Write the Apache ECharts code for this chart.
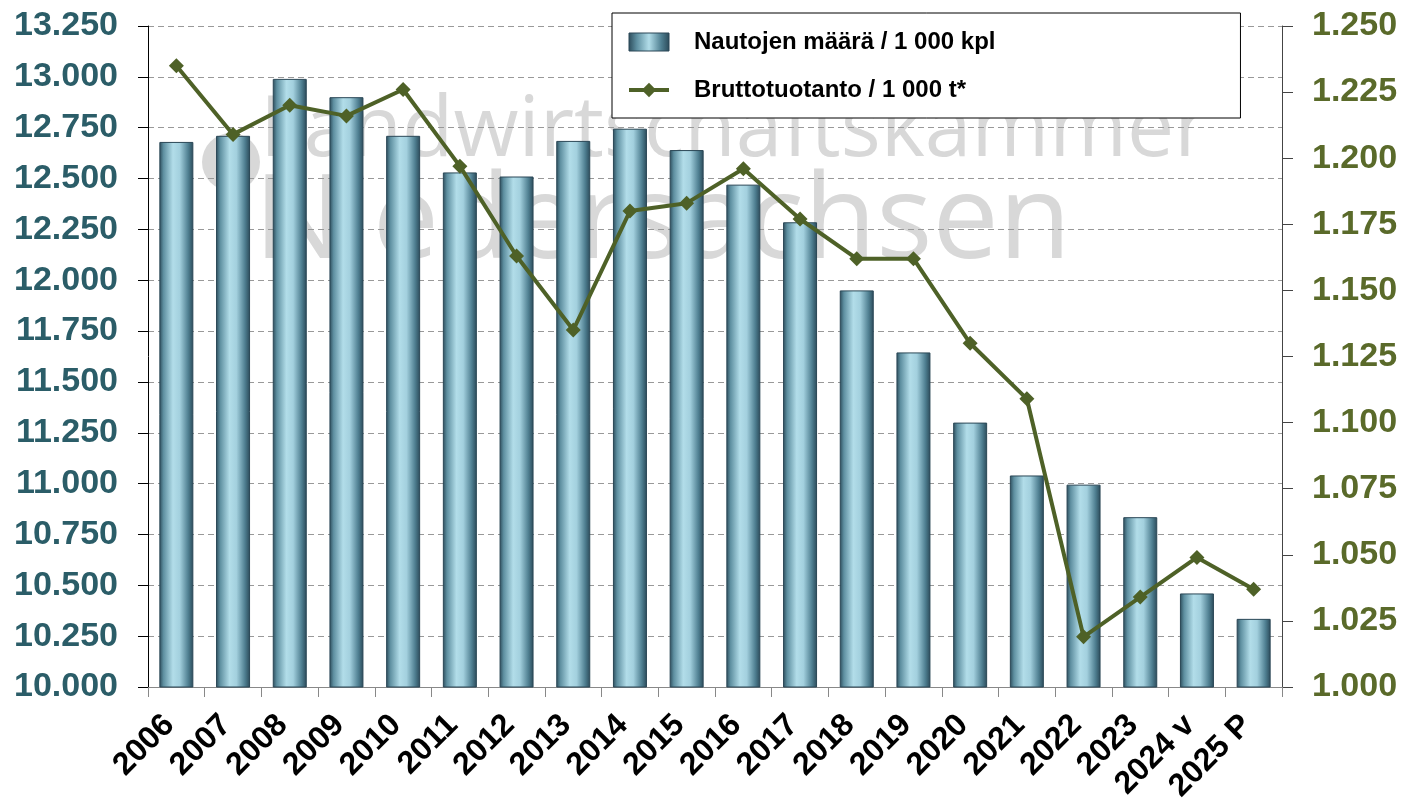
<!DOCTYPE html>
<html>
<head>
<meta charset="utf-8">
<script src="https://cdn.jsdelivr.net/npm/echarts@6/dist/echarts.min.js"></script>
<style>
  html, body { margin: 0; padding: 0; background: #fff; }
  #chart { width: 1403px; height: 802px; }
</style>
</head>
<body>
<div id="chart"></div>
<script>
const years = ["2006", "2007", "2008", "2009", "2010", "2011", "2012", "2013", "2014", "2015",
  "2016", "2017", "2018", "2019", "2020", "2021", "2022", "2023", "2024 v", "2025 P"];
// Nautojen määrä / 1 000 kpl
const cattle = [12680, 12710, 12990, 12900, 12710, 12530, 12510, 12685, 12745, 12640,
  12470, 12285, 11950, 11645, 11300, 11040, 10995, 10835, 10460, 10335];
// Bruttotuotanto / 1 000 t*
const production = [1235, 1209, 1220, 1216, 1226, 1197, 1163, 1135, 1180, 1183,
  1196, 1177, 1162, 1162, 1130, 1109, 1019, 1034, 1049, 1037];
const seriesNames = ["Nautojen määrä / 1 000 kpl", "Bruttotuotanto / 1 000 t*"];

const font = "'Liberation Sans', Arial, sans-serif";
function dots(v) {
  return String(Math.round(v)).replace(/\B(?=(\d{3})+(?!\d))/g, ".");
}

const barFill = new echarts.graphic.LinearGradient(0, 0, 1, 0, [
  { offset: 0, color: "#2b4b5a" },
  { offset: 0.12, color: "#5e8fa0" },
  { offset: 0.4, color: "#b2dde9" },
  { offset: 0.6, color: "#a3d0de" },
  { offset: 0.85, color: "#4f7f91" },
  { offset: 1, color: "#2a4958" }
]);
const legendFill = new echarts.graphic.LinearGradient(0, 0, 1, 0, [
  { offset: 0, color: "#2b4b5a" },
  { offset: 0.2, color: "#5e8fa0" },
  { offset: 0.5, color: "#b2dde9" },
  { offset: 0.8, color: "#4f7f91" },
  { offset: 1, color: "#2a4958" }
]);

const chart = echarts.init(document.getElementById("chart"));
chart.setOption({
  animation: false,
  backgroundColor: "#fff",
  textStyle: { fontFamily: font },
  grid: { left: 148, right: 121, top: 26, bottom: 115, outerBoundsMode: "none", containLabel: false },
  graphic: [
    { type: "circle", z: -10, shape: { cx: 231, cy: 162, r: 29 }, style: { fill: "#d8d8d8" } },
    { type: "text", z: -10, left: 260, top: 90,
      style: { text: "Landwirtschaftskammer", font: "normal 84px 'Open Sans', sans-serif", fill: "#d8d8d8" } },
    { type: "text", z: -10, left: 254, top: 165,
      style: { text: "Niedersachsen", font: "normal 118px 'Open Sans', sans-serif", fill: "#d8d8d8" } }
  ],
  legend: {
    orient: "vertical",
    left: 612,
    top: 13,
    padding: [17, 245, 16, 15],
    itemGap: 24,
    itemWidth: 40,
    itemHeight: 18,
    backgroundColor: "#fff",
    borderColor: "#000",
    borderWidth: 1,
    borderRadius: 0,
    textStyle: {
      fontFamily: font, fontSize: 24, fontWeight: "bold", color: "#000",
      lineHeight: 20, padding: [0, 0, 0, 20]
    },
    data: [
      { name: seriesNames[0], icon: "rect", itemStyle: { color: legendFill, borderColor: "#2a4756", borderWidth: 1 } },
      { name: seriesNames[1], lineStyle: { width: 4 } }
    ]
  },
  xAxis: {
    type: "category",
    data: years,
    axisLine: { lineStyle: { color: "#888", width: 1 } },
    axisTick: { show: true, interval: 0, length: 10, lineStyle: { color: "#888" } },
    axisLabel: {
      interval: 0, rotate: 45, margin: 26, padding: [0, 10, 0, 0],
      fontSize: 32, fontWeight: "bold", color: "#000", fontFamily: font
    }
  },
  yAxis: [
    {
      type: "value",
      min: 10000,
      max: 13250,
      interval: 250,
      axisLine: { show: true, lineStyle: { color: "#000", width: 1 } },
      axisTick: { show: true, length: 10, lineStyle: { color: "#000" } },
      splitLine: { show: true, lineStyle: { color: "#999", type: [6, 4], width: 1 } },
      axisLabel: {
        margin: 30, fontSize: 34, fontWeight: "bold", color: "#2b5d68", fontFamily: font,
        formatter: dots
      }
    },
    {
      type: "value",
      position: "right",
      min: 1000,
      max: 1250,
      interval: 25,
      axisLine: { show: true, lineStyle: { color: "#444", width: 1 } },
      axisTick: { show: true, length: 11, lineStyle: { color: "#444" } },
      splitLine: { show: false },
      axisLabel: {
        margin: 30, fontSize: 34, fontWeight: "bold", color: "#5a6a2a", fontFamily: font,
        formatter: v => (v / 1000).toFixed(3)
      }
    }
  ],
  series: [
    {
      name: seriesNames[0],
      type: "bar",
      yAxisIndex: 0,
      barWidth: 34,
      itemStyle: { color: barFill, borderColor: "#2a4756", borderWidth: 1 },
      data: cattle
    },
    {
      name: seriesNames[1],
      type: "line",
      yAxisIndex: 1,
      symbol: "diamond",
      symbolSize: 15,
      lineStyle: { color: "#4e6127", width: 4 },
      itemStyle: { color: "#4e6127" },
      data: production
    }
  ]
});
</script>
</body>
</html>
